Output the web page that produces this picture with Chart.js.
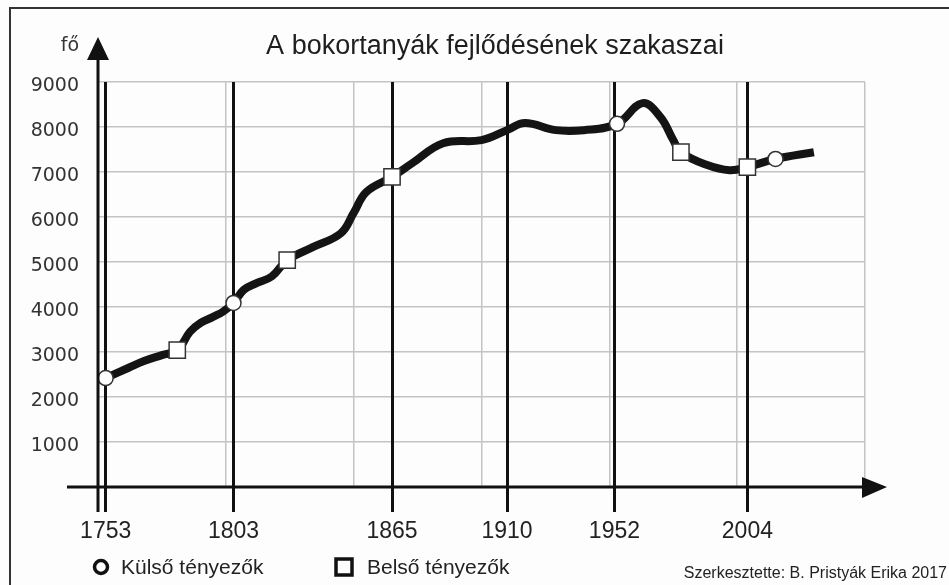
<!DOCTYPE html>
<html>
<head>
<meta charset="utf-8">
<script src="https://cdn.jsdelivr.net/npm/chart.js@4"></script>
<style>
  html, body { margin: 0; padding: 0; background: #fff; }
  canvas { display: block; }
</style>
</head>
<body>
<canvas id="chart" width="949" height="585"></canvas>
<script>
// Adatok
const curveYears = [1753, 1762, 1768, 1775, 1781, 1786, 1790, 1795, 1799, 1803, 1807, 1812, 1818, 1824,
    1834, 1845, 1850, 1855, 1865, 1873, 1885, 1900, 1910, 1917, 1929, 1940, 1953, 1963, 1970, 1975,
    1978, 1988, 1997, 2004, 2015, 2030];
const curveValues = [2420, 2650, 2800, 2930, 3040, 3450, 3640, 3780, 3900, 4090, 4380, 4530, 4680, 5040,
    5330, 5640, 6090, 6560, 6890, 7200, 7640, 7710, 7930, 8090, 7930, 7930, 8070, 8530, 8220, 7710,
    7440, 7160, 7040, 7110, 7290, 7440];

const kulsoYears = [1753, 1803, 1953, 2015];     // Külső tényezők (kör)
const kulsoValues = [2420, 4090, 8070, 7290];
const belsoYears = [1781, 1824, 1865, 1978, 2004]; // Belső tényezők (négyzet)
const belsoValues = [3040, 5040, 6890, 7440, 7110];

const periodYears = [1753, 1803, 1865, 1910, 1952, 2004]; // szakaszhatárok
const gridYears = [1750, 1800, 1850, 1900, 1950, 2000, 2050];

const toPoints = (xs, ys) => xs.map((x, i) => ({ x: x, y: ys[i] }));

// Keret, cím, nyilak, jelmagyarázat
const decorPlugin = {
    id: 'decor',
    beforeDraw(chart) {
        const ctx = chart.ctx;
        ctx.save();
        ctx.fillStyle = '#fdfdfd';
        ctx.fillRect(0, 0, chart.width, chart.height);
        ctx.strokeStyle = '#333';
        ctx.lineWidth = 2;
        ctx.strokeRect(10, 8, chart.width + 20, chart.height + 20);
        ctx.restore();
    },
    afterDraw(chart) {
        const ctx = chart.ctx;
        const area = chart.chartArea;
        const x0 = area.left;
        const y0 = area.bottom;
        ctx.save();
        ctx.fillStyle = '#111';
        ctx.strokeStyle = '#111';
        ctx.lineWidth = 3;

        // y tengely nyíllal
        ctx.beginPath();
        ctx.moveTo(x0, 58);
        ctx.lineTo(x0, y0 + 25);
        ctx.stroke();
        ctx.beginPath();
        ctx.moveTo(x0, 37);
        ctx.lineTo(x0 - 11, 60);
        ctx.lineTo(x0 + 11, 60);
        ctx.closePath();
        ctx.fill();

        // x tengely nyíllal
        ctx.beginPath();
        ctx.moveTo(67, y0);
        ctx.lineTo(865, y0);
        ctx.stroke();
        ctx.beginPath();
        ctx.moveTo(887, y0);
        ctx.lineTo(862, y0 - 10);
        ctx.lineTo(862, y0 + 11);
        ctx.closePath();
        ctx.fill();

        // feliratok
        ctx.fillStyle = '#1e1e1e';
        ctx.textBaseline = 'middle';
        ctx.textAlign = 'center';
        ctx.font = '27px "Liberation Sans", Arial, sans-serif';
        ctx.fillText('A bokortanyák fejlődésének szakaszai', 495, 47);

        ctx.textAlign = 'right';
        ctx.font = '19px "DejaVu Sans", sans-serif';
        ctx.fillStyle = '#333';
        ctx.fillText('fő', 79, 46);

        // jelmagyarázat
        ctx.strokeStyle = '#111';
        ctx.lineWidth = 3.5;
        ctx.fillStyle = '#fff';
        ctx.beginPath();
        ctx.arc(101, 567, 6.5, 0, Math.PI * 2);
        ctx.fill();
        ctx.stroke();
        ctx.fillRect(336, 559, 16, 16);
        ctx.strokeRect(336, 559, 16, 16);

        ctx.fillStyle = '#222';
        ctx.textAlign = 'left';
        ctx.font = '21px "Liberation Sans", Arial, sans-serif';
        ctx.fillText('Külső tényezők', 121, 568);
        ctx.fillText('Belső tényezők', 367, 568);

        ctx.font = '16px "Liberation Sans", Arial, sans-serif';
        ctx.textAlign = 'right';
        ctx.fillText('Szerkesztette: B. Pristyák Erika 2017', 947, 574);
        ctx.restore();
    }
};

new Chart(document.getElementById('chart').getContext('2d'), {
    type: 'line',
    data: {
        datasets: [
            {
                label: 'Külső tényezők',
                data: toPoints(kulsoYears, kulsoValues),
                showLine: false,
                pointStyle: 'circle',
                pointRadius: 7.5,
                pointBackgroundColor: '#fff',
                pointBorderColor: '#333',
                pointBorderWidth: 1.5
            },
            {
                label: 'Belső tényezők',
                data: toPoints(belsoYears, belsoValues),
                showLine: false,
                pointStyle: 'rect',
                pointRadius: 11.5,
                pointBackgroundColor: '#fff',
                pointBorderColor: '#333',
                pointBorderWidth: 1.5
            },
            {
                label: 'fő',
                data: toPoints(curveYears, curveValues),
                borderColor: '#141414',
                borderWidth: 8,
                borderCapStyle: 'butt',
                borderJoinStyle: 'round',
                tension: 0.4,
                pointRadius: 0,
                fill: false
            }
        ]
    },
    options: {
        responsive: false,
        devicePixelRatio: 1,
        animation: false,
        layout: { padding: { top: 82, right: 84, left: 0, bottom: 0 } },
        plugins: {
            legend: { display: false },
            tooltip: { enabled: false },
            title: { display: false }
        },
        scales: {
            x: {
                type: 'linear',
                position: 'bottom',
                min: 1750,
                max: 2050,
                afterBuildTicks: s => { s.ticks = periodYears.map(v => ({ value: v })); },
                afterFit: s => { s.height = 98; },
                grid: { color: '#111', lineWidth: 3, tickLength: 25, drawTicks: true, z: -1 },
                border: { display: false },
                ticks: {
                    autoSkip: false,
                    maxRotation: 0,
                    padding: 6,
                    color: '#222',
                    font: { family: '"Liberation Sans", Arial, sans-serif', size: 23 },
                    callback: v => String(v)
                }
            },
            x2: {
                type: 'linear',
                position: 'bottom',
                min: 1750,
                max: 2050,
                afterBuildTicks: s => { s.ticks = gridYears.map(v => ({ value: v })); },
                afterFit: s => { s.height = 0; },
                grid: { color: '#c4c4c4', lineWidth: 1.5, drawTicks: false, z: -2 },
                border: { display: false },
                ticks: { display: false }
            },
            y: {
                min: 0,
                max: 9000,
                afterFit: s => { s.width = 98; },
                grid: { color: ctx => ctx.tick.value === 0 ? 'rgba(0,0,0,0)' : '#c4c4c4', lineWidth: 1.5, drawTicks: false, z: -3 },
                border: { display: false },
                ticks: {
                    stepSize: 1000,
                    padding: 19,
                    labelOffset: 4,
                    color: '#333',
                    font: { family: '"DejaVu Sans", sans-serif', size: 19 },
                    callback: v => v === 0 ? '' : String(v)
                }
            }
        }
    },
    plugins: [decorPlugin]
});
</script>
</body>
</html>
